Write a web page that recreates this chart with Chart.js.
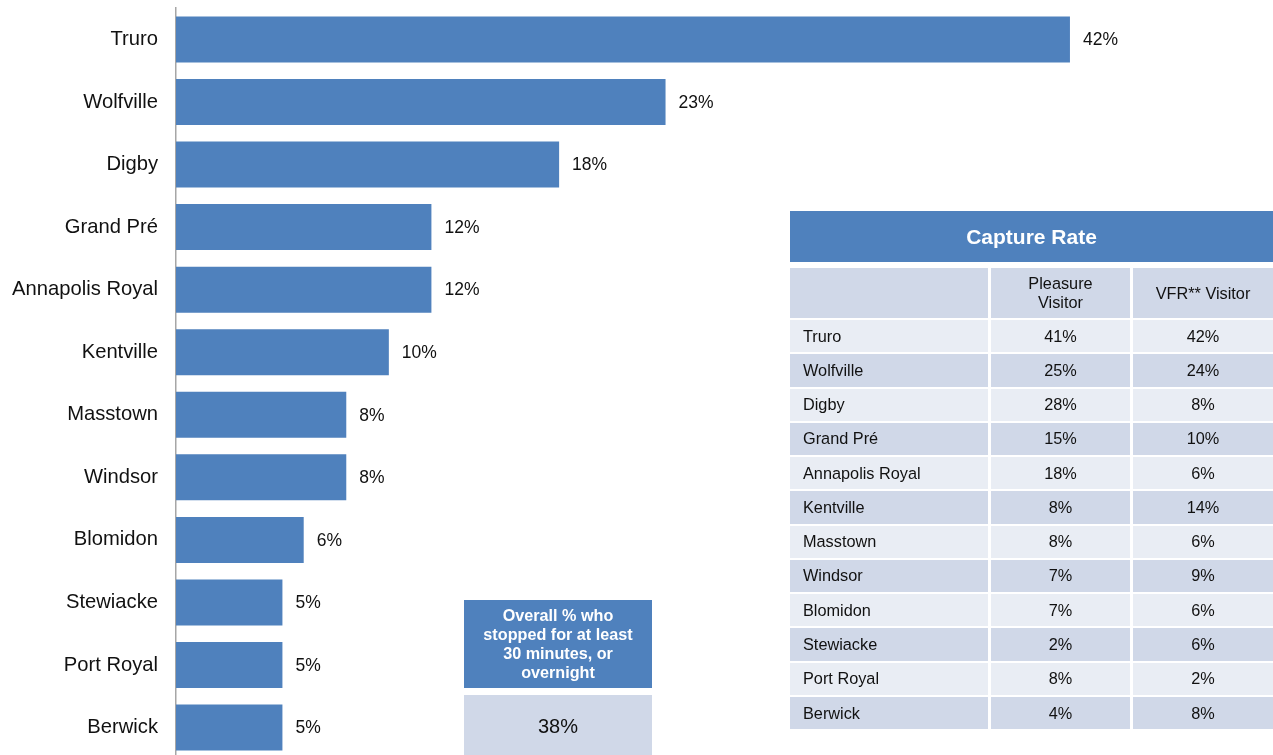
<!DOCTYPE html>
<html>
<head>
<meta charset="utf-8">
<script src="https://cdn.jsdelivr.net/npm/chart.js@4/dist/chart.umd.min.js"></script>
<style>
  html, body { margin: 0; padding: 0; background: #fff; overflow: hidden; }
  body { width: 1273px; height: 755px; position: relative; font-family: "Liberation Sans", Arial, sans-serif; }
  #chart { position: absolute; left: 0; top: -22px; }
  #capture { position: absolute; left: 790px; top: 211px; width: 483px; border-collapse: separate; border-spacing: 0; }
  #capture td, #capture th { padding: 0; font-weight: normal; color: #111; font-size: 16.3px; }
  #capture .title { background: #4f81bd; color: #fff; font-weight: bold; font-size: 21px; height: 51px; text-align: center; border-bottom: 6px solid #fff; }
  #capture .head td { background: #d0d8e8; height: 50px; text-align: center; line-height: 19px; border-bottom: 2px solid #fff; }
  #capture .row td { height: 32.27px; text-align: center; border-bottom: 2px solid #fff; }
  #capture .row td.name { text-align: left; padding-left: 13px; }
  #capture td + td { border-left: 3px solid #fff; }
  #capture .row.odd td { background: #e9edf4; }
  #capture .row.even td { background: #d0d8e8; }
  #overall { position: absolute; left: 464px; top: 600px; width: 188px; }
  #overall .top { background: #4f81bd; color: #fff; font-weight: bold; font-size: 16.2px; line-height: 19.2px; height: 88px; display: flex; align-items: center; justify-content: center; text-align: center; }
  #overall .bot { background: #d0d8e8; margin-top: 7px; height: 62px; font-size: 20px; color: #111; display: flex; align-items: center; justify-content: center; }
</style>
</head>
<body>
<canvas id="chart" width="1273" height="811"></canvas>
<table id="capture"></table>
<div id="overall"><div class="top"></div><div class="bot"></div></div>
<script>
// bar chart: share who stopped in each town
const towns = ['Truro', 'Wolfville', 'Digby', 'Grand Pré', 'Annapolis Royal', 'Kentville',
  'Masstown', 'Windsor', 'Blomidon', 'Stewiacke', 'Port Royal', 'Berwick'];
const stopped = [42, 23, 18, 12, 12, 10, 8, 8, 6, 5, 5, 5];

// capture rate table
const tableTitle = 'Capture Rate';
const tableCols = ['Pleasure<br>Visitor', 'VFR** Visitor'];
const pleasure = [41, 25, 28, 15, 18, 8, 8, 7, 7, 2, 8, 4];
const vfr = [42, 24, 8, 10, 6, 14, 6, 9, 6, 6, 2, 8];

// overall box
const overallLabel = 'Overall % who<br>stopped for at least<br>30 minutes, or<br>overnight';
const overallValue = 38;

const barColor = '#4f81bd';

const valueLabels = {
  id: 'valueLabels',
  afterDatasetsDraw(chart) {
    const ctx = chart.ctx;
    const meta = chart.getDatasetMeta(0);
    ctx.save();
    ctx.font = '17.5px "Liberation Sans", Arial, sans-serif';
    ctx.fillStyle = '#111';
    ctx.textBaseline = 'middle';
    ctx.textAlign = 'left';
    meta.data.forEach((bar, i) => {
      ctx.fillText(stopped[i] + '%', bar.x + 13, bar.y + 1);
    });
    ctx.restore();
  }
};

new Chart(document.getElementById('chart').getContext('2d'), {
  type: 'bar',
  data: {
    labels: towns,
    datasets: [{
      data: stopped,
      backgroundColor: barColor,
      borderWidth: 0,
      categoryPercentage: 1,
      barPercentage: 0.736
    }]
  },
  options: {
    indexAxis: 'y',
    responsive: false,
    animation: false,
    layout: { padding: 0 },
    plugins: { legend: { display: false }, tooltip: { enabled: false } },
    scales: {
      x: { display: false, min: 0, max: 51.54 },
      y: {
        afterFit(scale) { scale.width = 176; },
        grid: { display: true, drawOnChartArea: false, drawTicks: false },
        border: { color: '#a6a6a6', width: 1.5 },
        ticks: {
          color: '#111',
          padding: 18,
          font: { family: '"Liberation Sans", Arial, sans-serif', size: 20.2 }
        }
      }
    }
  },
  plugins: [valueLabels]
});

// build the table
let html = '<tr><th class="title" colspan="3">' + tableTitle + '</th></tr>';
html += '<tr class="head"><td style="width:198px"></td><td style="width:139px">' + tableCols[0] + '</td><td>' + tableCols[1] + '</td></tr>';
towns.forEach((t, i) => {
  html += '<tr class="row ' + (i % 2 === 0 ? 'odd' : 'even') + '"><td class="name">' + t + '</td><td>' +
    pleasure[i] + '%</td><td>' + vfr[i] + '%</td></tr>';
});
document.getElementById('capture').innerHTML = html;
document.querySelector('#overall .top').innerHTML = overallLabel;
document.querySelector('#overall .bot').textContent = overallValue + '%';
</script>
</body>
</html>
